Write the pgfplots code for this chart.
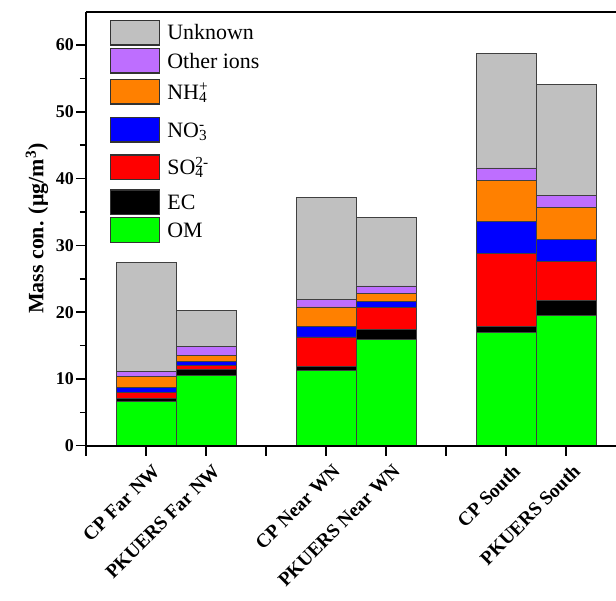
\documentclass[border=0pt]{standalone}
\usepackage{fontspec}
\setmainfont{Liberation Serif}
\usepackage{pgfplots}
\pgfplotsset{compat=1.18}
\usepackage{pgfplotstable}
\definecolor{cunk}{RGB}{192,192,192}
\definecolor{coth}{RGB}{190,110,255}
\definecolor{cnh}{RGB}{255,128,0}
\definecolor{cno}{RGB}{0,0,255}
\definecolor{cso}{RGB}{255,0,0}
\definecolor{cec}{RGB}{0,0,0}
\definecolor{com}{RGB}{0,255,0}
\pgfplotstableread{
x om ec so4 no3 nh4 oth unk
1 6.58 0.45 0.90 0.85 1.65 0.75 16.33
2 10.46 0.90 0.64 0.66 0.79 1.41 5.34
4 11.32 0.49 4.48 1.60 2.89 1.15 15.20
5 15.90 1.54 3.25 0.94 1.15 1.14 10.22
7 16.90 0.99 10.87 4.87 6.04 1.93 17.10
8 19.49 2.29 5.87 3.29 4.79 1.74 16.70
}\data
\newcommand{\st}[2]{\rule[-#2bp]{0pt}{\dimexpr #1bp + #2bp\relax}}
\begin{document}
\begin{tikzpicture}
\begin{axis}[
  name=ax,
  scale only axis, width=530bp, height=434bp,
  xmin=0, xmax=8.83, ymin=0, ymax=65,
  ybar stacked, bar width=1,
  clip=false, axis on top,
  axis x line*=bottom, axis y line*=left,
  axis line style={line width=2bp},
  tick style={line width=1.5bp, black},
  tick align=outside,
  major tick length=10bp, minor tick length=6bp,
  ytick={0,10,...,60}, minor y tick num=1,
  xtick={0,3,6},
  xticklabels={},
  extra x ticks={1,2,4,5,7,8},
  extra x tick labels={CP Far NW,PKUERS Far NW,CP Near WN,PKUERS Near WN,CP South,PKUERS South},
  extra x tick style={tick style={line width=1.5bp, black}, major tick length=10bp, tick align=outside},
  x tick label style={rotate=45, anchor=east, font=\fontsize{19.5}{19.5}\selectfont\bfseries, inner sep=1bp, yshift=-16bp, xshift=0bp},
  y tick label style={font=\fontsize{18}{18}\selectfont\bfseries, inner sep=2bp},
  /pgf/number format/assume math mode=true,
  ylabel={Mass con. (μg/m\textsuperscript{3})},
  every axis y label/.style={at={(axis description cs:-0.0925,0.5)}, rotate=90, anchor=center, font=\fontsize{22}{22}\selectfont\bfseries},
  every axis plot/.append style={draw=black!75, line width=0.8bp},
  reverse legend,
  legend image code/.code={\draw[#1, line width=1.2bp, draw=black!80] (0bp,-5bp) rectangle (49bp,19.5bp);},
  legend style={at={(0,1)}, anchor=north west, xshift=24bp, yshift=-8bp, draw=none, fill=none,
    inner sep=0pt, row sep=0pt, column sep=7bp,
    nodes={inner sep=0pt, text depth=, text height=, font=\fontsize{22}{22}\selectfont}},
  legend cell align=left,
  legend style={cells={anchor=base west}},
]
\addplot[fill=com] table[x=x,y=om] {\data};
\addplot[fill=cec] table[x=x,y=ec] {\data};
\addplot[fill=cso] table[x=x,y=so4] {\data};
\addplot[fill=cno] table[x=x,y=no3] {\data};
\addplot[fill=cnh] table[x=x,y=nh4] {\data};
\addplot[fill=coth] table[x=x,y=oth] {\data};
\addplot[fill=cunk] table[x=x,y=unk] {\data};
\legend{\st{20}{6}OM,\st{20.5}{7.5}EC,\st{22}{14.5}SO\rlap{\textsuperscript{2-}}\textsubscript{4},\st{22}{15.5}NO\rlap{\textsuperscript{-}}\textsubscript{3},\st{22}{16}NH\rlap{\textsuperscript{+}}\textsubscript{4},\st{20}{9}Other ions,\st{20}{8}Unknown}
\draw[line width=2bp] (rel axis cs:0,1) -- (rel axis cs:1,1);
\coordinate (ll) at (rel axis cs:0,0);
\coordinate (ur) at (rel axis cs:1,1);
\end{axis}
\pgfresetboundingbox
\path ([shift={(-86bp,-155.3bp)}]ll) rectangle ([shift={(0bp,11.7bp)}]ur);
\end{tikzpicture}
\end{document}
